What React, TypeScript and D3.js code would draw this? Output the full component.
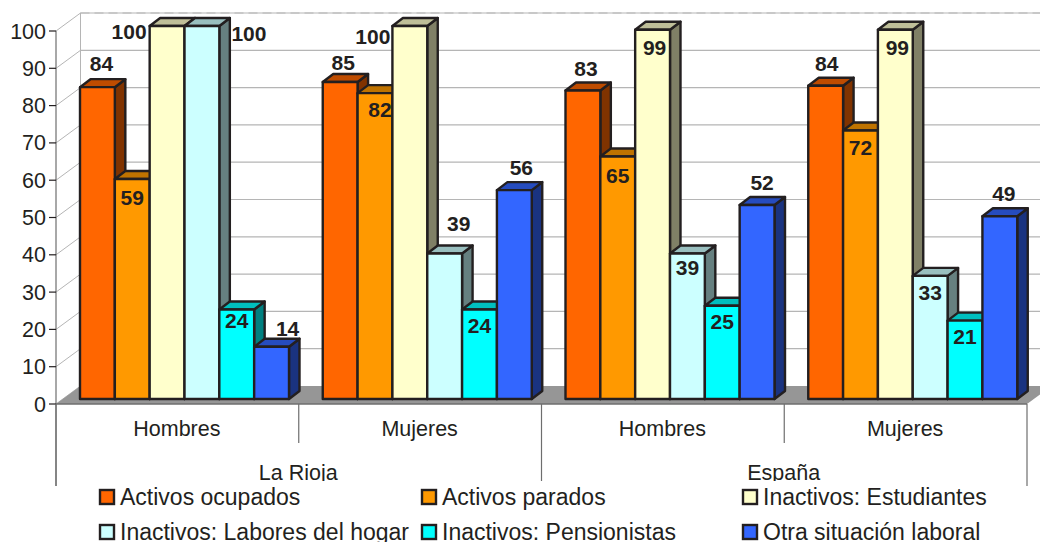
import React from "react";
import * as d3 from "d3";

const groups = ["La Rioja", "España"];
const subgroups = ["Hombres", "Mujeres"];
const seriesNames = ["Activos ocupados", "Activos parados", "Inactivos: Estudiantes", "Inactivos: Labores del hogar", "Inactivos: Pensionistas", "Otra situación laboral"];
const activosOcupados = [83.6, 85, 82.7, 84];
const activosParados = [59, 82, 65, 72];
const estudiantes = [100, 100, 99, 99];
const labores = [100, 39, 39, 33];
const pensionistas = [24, 24, 25, 21];
const otra = [14, 56, 52, 49];
const seriesValues = [activosOcupados, activosParados, estudiantes, labores, pensionistas, otra];
const fronts = ["#ff6600", "#ff9900", "#ffffcc", "#ccffff", "#00ffff", "#3366ff"];
const tops = ["#bf4c00", "#bf7300", "#bfbf99", "#99bfbf", "#00bfbf", "#264cbf"];
const sides = ["#803300", "#804c00", "#808066", "#668080", "#008080", "#1a3380"];
const yTicks = d3.range(0, 101, 10);

// label nudges relative to the top centre of each bar [series][category]
const nudgeX = [[4, 3, 3, 1], [0, 5, 0, 0], [-38, -37, 2, 2], [47, 14, 0, 0], [0, 0, 0, 0], [16, 7, 5, 4]];
const nudgeY = [[-24, -19, -22, -22], [19, 16, 19, 17], [5, 10, 18, 18], [7, -30, 14, 17], [11, 16, 16, 16], [-18, -23, -23, -23]];

const depthX = 10.5, depthY = 8;
const wallX = 24.5, wallY = 18;
const ink = "#231f20";
const font = "'Liberation Sans', Arial, sans-serif";

export default function App() {
  const axisY = d3.scaleLinear().domain([0, 100]).range([404, 31]);
  const barY = d3.scaleLinear().domain([0, 100]).range([399, 26]);
  const catX = d3.scaleLinear().domain([0, 4]).range([56, 1027]);
  const sliceX = d3.scaleBand<number>().domain(d3.range(6)).range([0, 209]);
  const barLeft = (c: number, s: number) => catX(c) + 24 + (sliceX(s) as number);
  const w = sliceX.bandwidth();
  const poly = (p: number[][]) => p.map((q) => q.join(",")).join(" ");
  const legendCols = [100, 422, 743];
  const legendRows = [497, 532];

  return (
    <svg width={1040} height={542} style={{ position: "absolute", left: 0, top: 0, background: "#fff" }} fontFamily={font}>
      {/* walls */}
      <line x1={80.5} x2={1040} y1={13} y2={13} stroke="#b5b5b5" strokeWidth={1.2} strokeDasharray="9 5" />
      <line x1={80.5} x2={80.5} y1={13} y2={386} stroke="#b5b5b5" strokeWidth={1} />
      {yTicks.map((t) => (
        <g key={t}>
          {t > 0 && <line x1={80.5} x2={1040} y1={axisY(t) - wallY} y2={axisY(t) - wallY} stroke="#b5b5b5" strokeWidth={1.2} />}
          <line x1={56} x2={80.5} y1={axisY(t)} y2={axisY(t) - wallY} stroke="#b5b5b5" strokeWidth={1} />
        </g>
      ))}
      {/* floor */}
      <polygon points={poly([[56, 404], [1027, 404], [1027 + wallX, 404 - wallY], [56 + wallX, 404 - wallY]])} fill="#969696" />
      <line x1={56} x2={1027} y1={404} y2={404} stroke="#6e6e6e" strokeWidth={1.4} />
      {/* value axis */}
      <line x1={56} x2={56} y1={31} y2={486} stroke="#6e6e6e" strokeWidth={1.2} />
      {yTicks.map((t) => (
        <g key={t}>
          <line x1={49} x2={56} y1={axisY(t)} y2={axisY(t)} stroke={ink} strokeWidth={1.2} />
          <text x={46} y={axisY(t) + 7.5} textAnchor="end" fontSize={21.5} fill={ink}>{t}</text>
        </g>
      ))}
      {/* bars */}
      {subgroups.concat(subgroups).map((_, c) =>
        seriesValues.map((vals, s) => {
          const x0 = barLeft(c, s), x1 = x0 + w, y = barY(vals[c]), b = barY(0);
          return (
            <g key={`${c}-${s}`} stroke={ink} strokeWidth={2.4} strokeLinejoin="round">
              <polygon points={poly([[x1, y], [x1 + depthX, y - depthY], [x1 + depthX, b - depthY], [x1, b]])} fill={sides[s]} />
              <polygon points={poly([[x0, y], [x0 + depthX, y - depthY], [x1 + depthX, y - depthY], [x1, y]])} fill={tops[s]} />
              <rect x={x0} y={y} width={w} height={b - y} fill={fronts[s]} />
            </g>
          );
        })
      )}
      {/* data labels */}
      {subgroups.concat(subgroups).map((_, c) =>
        seriesValues.map((vals, s) => (
          <text key={`${c}-${s}`} x={barLeft(c, s) + w / 2 + nudgeX[s][c]} y={barY(vals[c]) + nudgeY[s][c] + 7.5} textAnchor="middle" fontSize={21} fontWeight="bold" fill={ink}>{Math.round(vals[c])}</text>
        ))
      )}
      {/* category axis */}
      {d3.range(5).map((i) => (
        <line key={i} x1={catX(i)} x2={catX(i)} y1={404} y2={i % 2 === 0 ? 486 : 443} stroke="#6e6e6e" strokeWidth={1.2} />
      ))}
      {subgroups.concat(subgroups).map((l, c) => (
        <text key={c} x={(catX(c) + catX(c + 1)) / 2 - 0.5} y={436} textAnchor="middle" fontSize={21.5} fill={ink}>{l}</text>
      ))}
      {groups.map((l, g) => (
        <text key={l} x={catX(2 * g + 1) - 0.5} y={480} textAnchor="middle" fontSize={21.5} fill={ink}>{l}</text>
      ))}
      {/* legend */}
      <rect x={60} y={481} width={960} height={61} fill="#fff" />
      {seriesNames.map((n, i) => {
        const x = legendCols[i % 3], y = legendRows[Math.floor(i / 3)];
        return (
          <g key={n}>
            <rect x={x} y={y - 7} width={14} height={14} fill={fronts[i]} stroke={ink} strokeWidth={2.4} />
            <text x={x + 20} y={y + 8} fontSize={23} fill={ink}>{n}</text>
          </g>
        );
      })}
    </svg>
  );
}
